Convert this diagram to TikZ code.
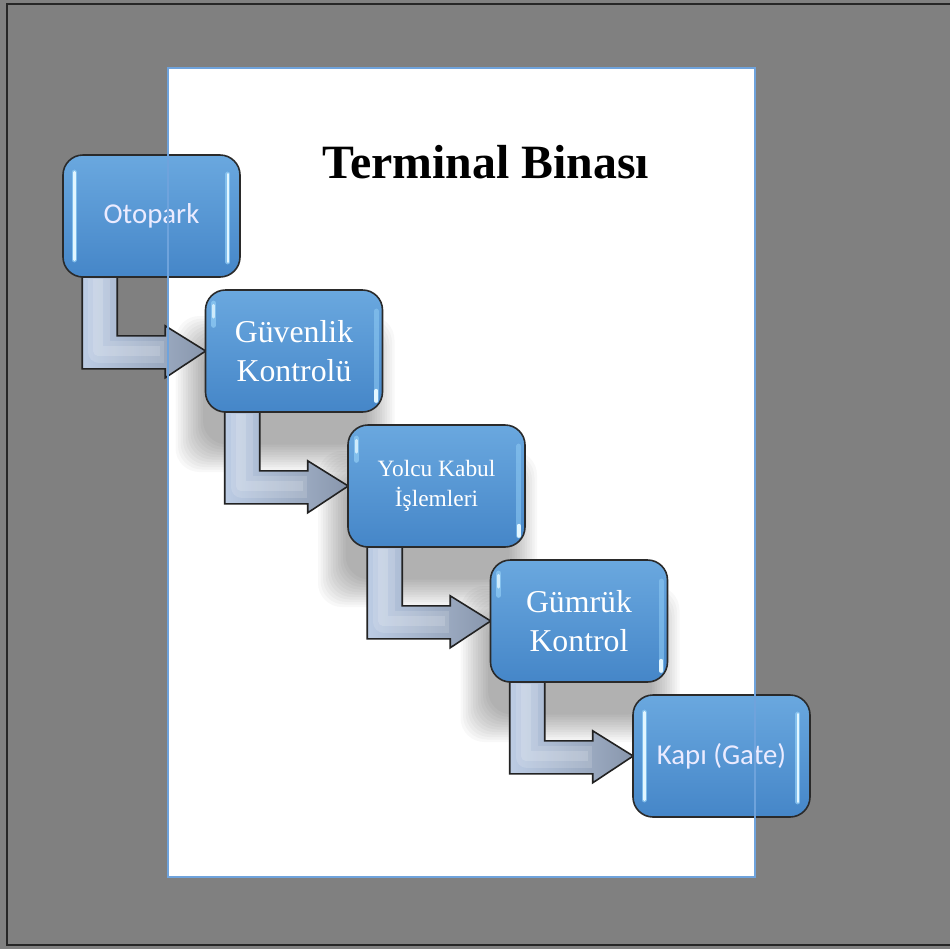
\documentclass[tikz,border=0pt]{standalone}
\usepackage{fontspec}
\setmainfont{Liberation Serif}
\newfontfamily\calibri{Carlito}
\usetikzlibrary{calc}

\definecolor{bggray}{HTML}{808080}
\definecolor{pageedge}{HTML}{6FA3DC}
\definecolor{boxtop}{HTML}{6AA8DF}
\definecolor{boxbot}{HTML}{4586C8}
\definecolor{boxline}{HTML}{2A2A2A}
\definecolor{glint}{HTML}{E2F6FF}
\definecolor{glow}{HTML}{8CC8F2}
\definecolor{arrlight}{HTML}{BCCCE4}
\definecolor{arrdark}{HTML}{8896AC}
\definecolor{arrline}{HTML}{222222}

\tikzset{
  stepbox/.style={rounded corners=10pt, draw=boxline, line width=0.8pt,
    top color=boxtop, bottom color=boxbot,
    minimum width=88.5pt, minimum height=61pt, inner sep=0pt,
    text=white, align=center},
  sanslabel/.style={font=\calibri\fontsize{14.4}{17}\selectfont, text=white!92!blue},
  seriflabel/.style={font=\fontsize{15.9}{19.5}\selectfont},
  smalllabel/.style={font=\fontsize{11.7}{15}\selectfont},
  flowarrow/.style={left color=arrlight, right color=arrdark,
    draw=arrline, line width=0.8pt, line join=miter},
  bevelwide/.style={white, opacity=0.14, line width=11pt, line join=round, line cap=butt},
  bevelnarrow/.style={white, opacity=0.16, line width=5pt, line join=round, line cap=butt},
  glintline/.style={glint, line width=1.3pt, line cap=round},
  glowline/.style={glow, line width=2.6pt, line cap=round, opacity=0.8}
}

% soft shadow cast by a box, stacked translucent layers
\newcommand\softshadow[2]{%
  \foreach \k in {0,...,11}{%
    \fill[black, opacity=0.026, rounded corners=12pt]
      ($(#1)+(-30+2.5*\k,26+2.5*\k)$) rectangle ($(#2)+(12-2.5*\k,60-2.5*\k)$);
  }}

% bent arrow leaving the bottom of box #1 and pointing at box #2
\newcommand\bentarrow[2]{%
  \path[flowarrow]
    ($(#1.south west)+(20,-3)$) -- ($(#1.south west)+(20,91)$)
    -- ($(#1.south west)+(103,91)$) -- ($(#1.south west)+(103,100)$)
    -- ($(#2.west)+(1,0)$)
    -- ($(#1.south west)+(103,48)$) -- ($(#1.south west)+(103,58)$)
    -- ($(#1.south west)+(55,58)$) -- ($(#1.south west)+(55,-3)$) -- cycle;
  \draw[bevelwide] ($(#1.south west)+(37,1)$) -- ($(#1.south west)+(37,74)$)
    -- ($(#1.south west)+(102,74)$);
  \draw[bevelnarrow] ($(#1.south west)+(36,1)$) -- ($(#1.south west)+(36,73)$)
    -- ($(#1.south west)+(98,73)$);}

% long highlights on both sides
\newcommand\sideglints[1]{%
  \draw[glowline] ($(#1.north west)+(12,18)$) -- ($(#1.south west)+(12,-18)$);
  \draw[glintline] ($(#1.north west)+(12,18)$) -- ($(#1.south west)+(12,-18)$);
  \draw[glowline] ($(#1.north east)+(-13,20)$) -- ($(#1.south east)+(-13,-16)$);
  \draw[glintline] ($(#1.north east)+(-13,20)$) -- ($(#1.south east)+(-13,-16)$);}

% corner highlights
\newcommand\cornerglints[1]{%
  \draw[glowline] ($(#1.north west)+(9,14)$) -- ($(#1.north west)+(9,36)$);
  \draw[glintline, opacity=0.8] ($(#1.north west)+(9,16)$) -- ($(#1.north west)+(9,28)$);
  \draw[glowline, opacity=0.6] ($(#1.north east)+(-7,22)$) -- ($(#1.south east)+(-7,-12)$);
  \draw[glintline, line width=2pt] ($(#1.south east)+(-7,-22)$) -- ($(#1.south east)+(-7,-12)$);}

\begin{document}
\begin{tikzpicture}[x=0.5pt, y=-0.5pt]
\useasboundingbox (0,0) rectangle (950,949);

% background and frame
\fill[bggray] (0,0) rectangle (950,949);
\draw[black!85, line width=1pt] (960,4) -- (7,4) -- (7,945) -- (960,945);

% page
\fill[white] (168,68) rectangle (755,877);

% title
\node[font=\bfseries\fontsize{23.9}{28}\selectfont, anchor=base] (title) at (486,178) {Terminal Binası};

% shadows
\softshadow{205.5,290}{382.5,412}
\softshadow{348,425}{525,547}
\softshadow{490.5,560}{667.5,682}

% box centres; invisible placeholders give the arrows their anchors
\path (151.5,216) coordinate (c1)
      (294,351) coordinate (c2)
      (436.5,486) coordinate (c3)
      (579,621) coordinate (c4)
      (721.5,756) coordinate (c5);
\node[stepbox, opacity=0] (b1) at (c1) {};
\node[stepbox, opacity=0] (b2) at (c2) {};
\node[stepbox, opacity=0] (b3) at (c3) {};
\node[stepbox, opacity=0] (b4) at (c4) {};
\node[stepbox, opacity=0] (b5) at (c5) {};

% arrows
\bentarrow{b1}{b2}
\bentarrow{b2}{b3}
\bentarrow{b3}{b4}
\bentarrow{b4}{b5}

% boxes
\node[stepbox, sanslabel] (otopark) at (c1) {Otopark};
\node[stepbox, seriflabel] (guvenlik) at (c2) {Güvenlik\\Kontrolü};
\node[stepbox, smalllabel] (yolcu) at (c3) {Yolcu Kabul\\İşlemleri};
\node[stepbox, seriflabel] (gumruk) at (c4) {Gümrük\\Kontrol};
\node[stepbox, sanslabel] (kapi) at (c5) {Kapı (Gate)};

\sideglints{otopark}
\sideglints{kapi}
\cornerglints{guvenlik}
\cornerglints{yolcu}
\cornerglints{gumruk}

% page edge, drawn over everything
\draw[pageedge, line width=0.8pt] (168,68) rectangle (755,877);
\end{tikzpicture}
\end{document}
